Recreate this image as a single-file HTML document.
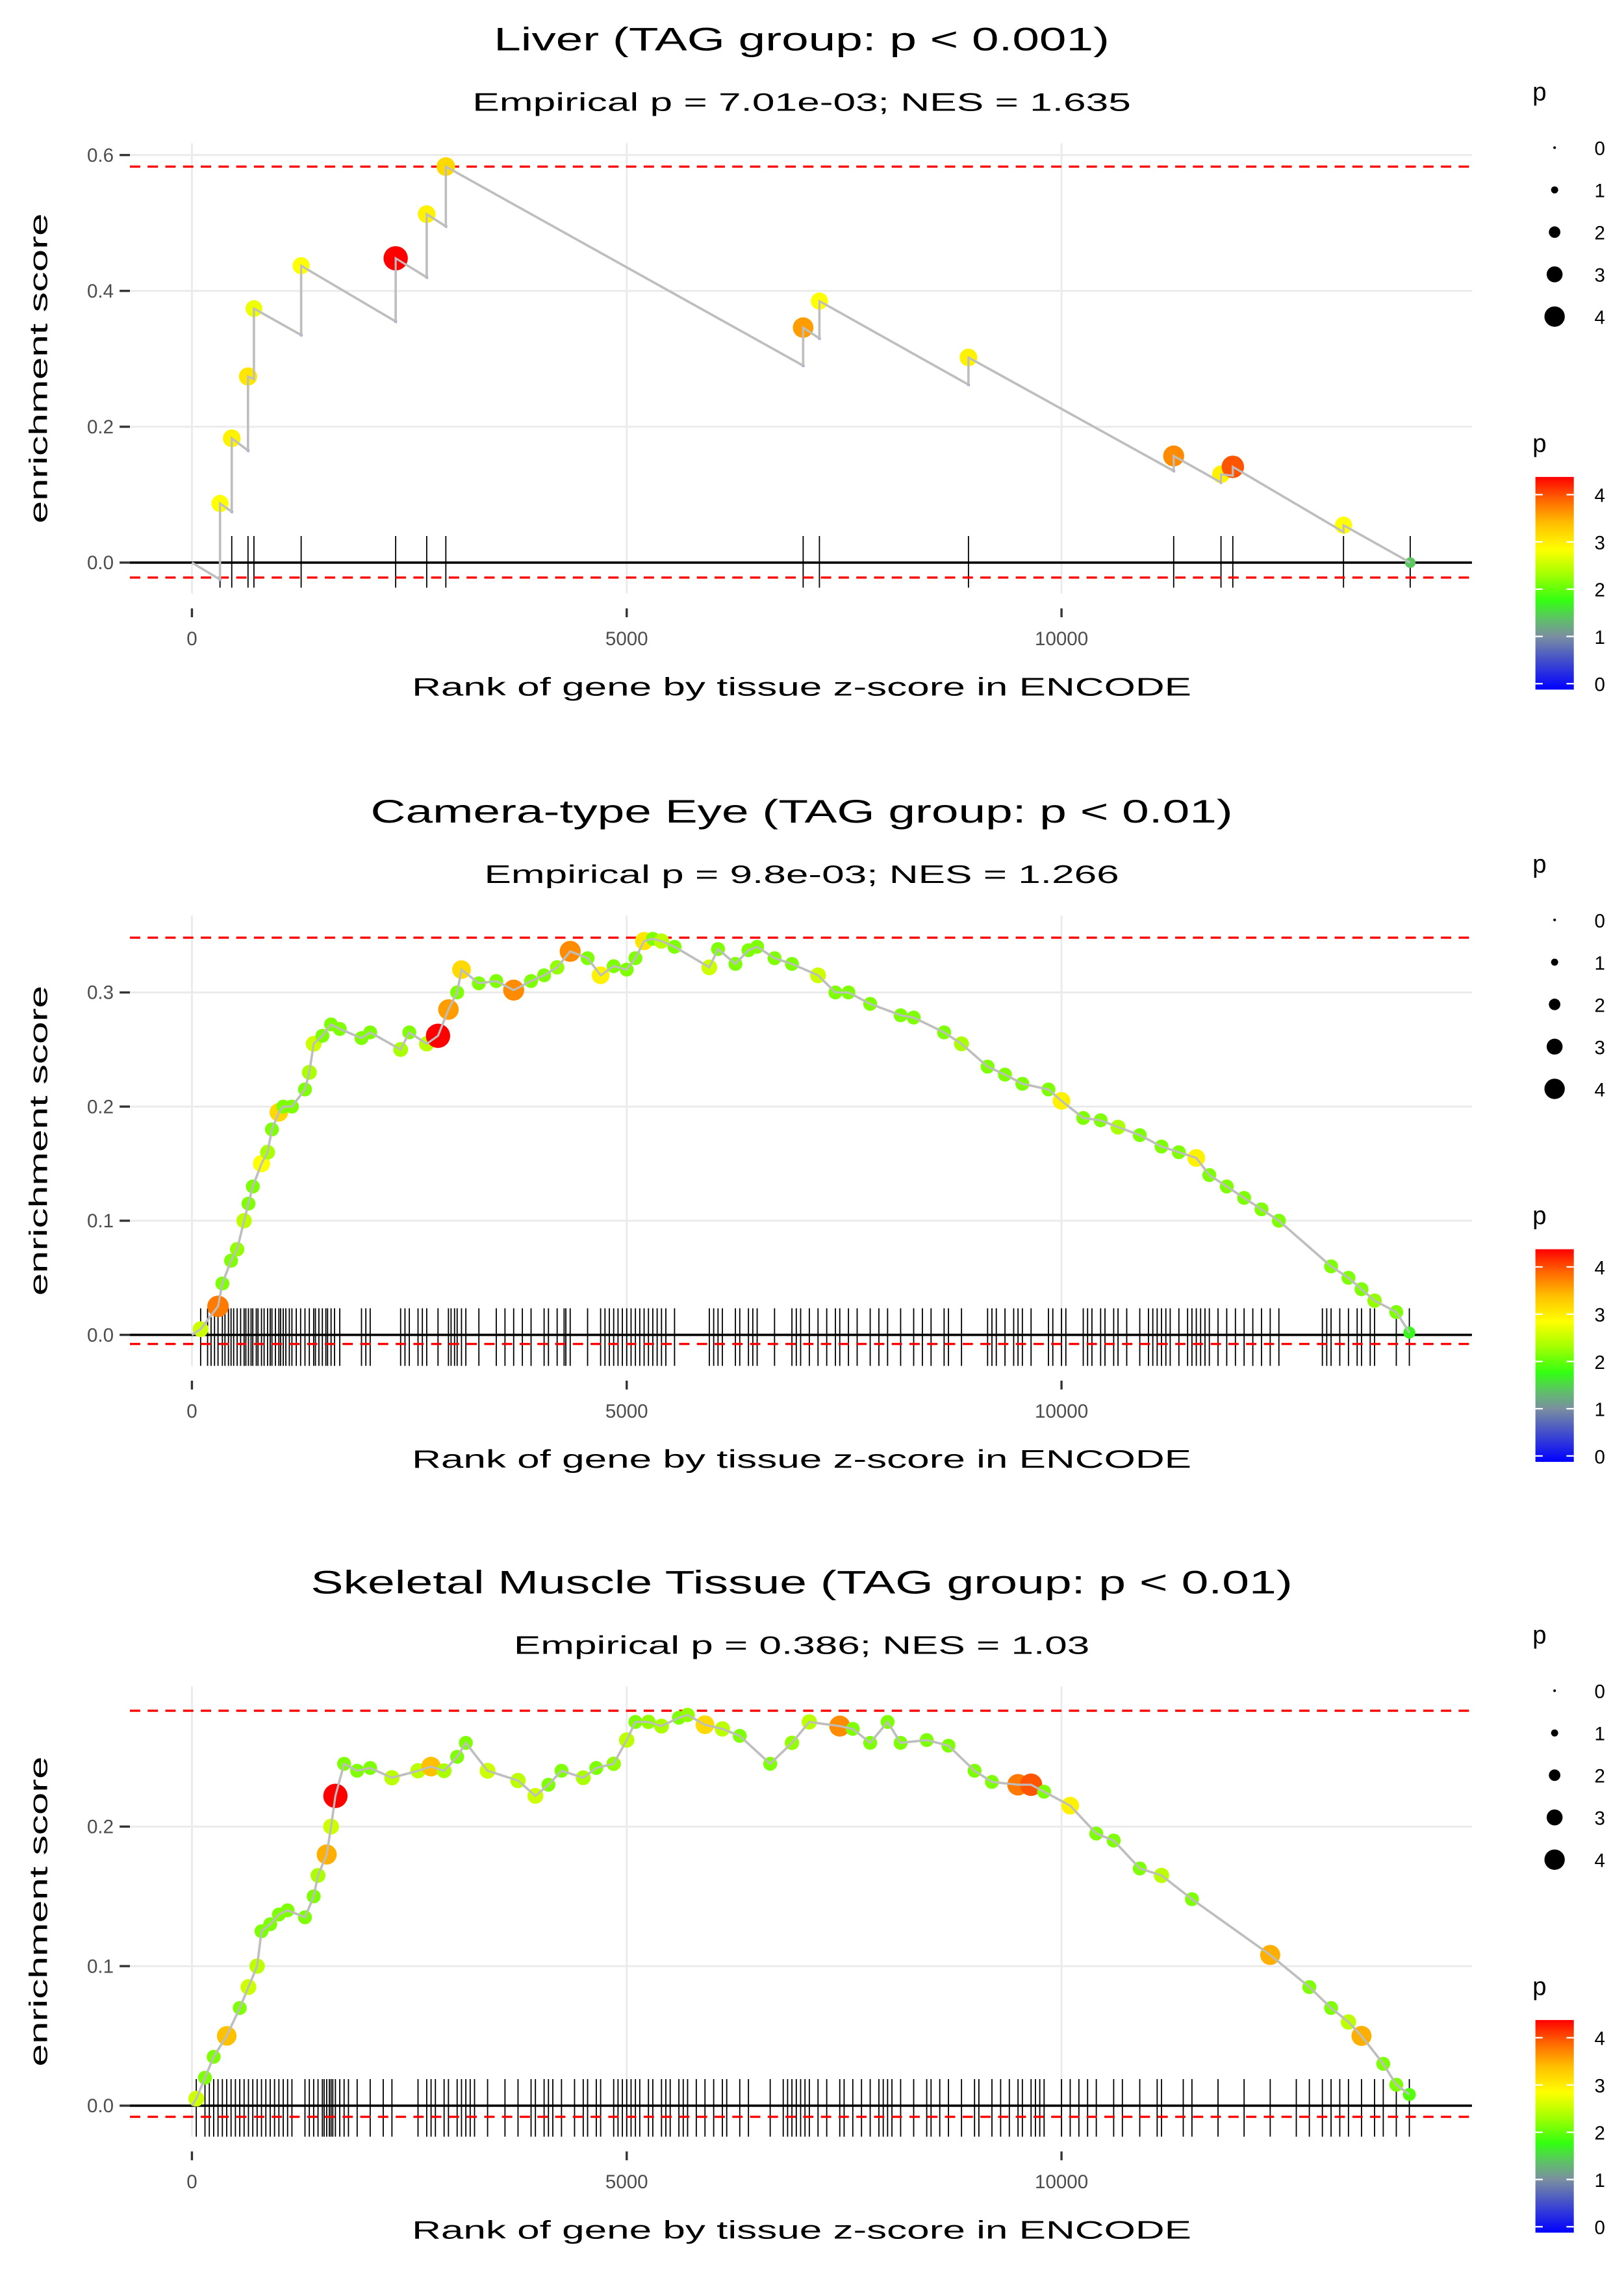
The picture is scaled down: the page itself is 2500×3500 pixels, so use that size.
<!DOCTYPE html>
<html><head><meta charset="utf-8"><style>
html,body{margin:0;padding:0;background:#fff}
svg{display:block}
text{font-family:"Liberation Sans",sans-serif}
</style></head><body>
<svg id="chart" width="2500" height="3500" viewBox="0 0 1100 1540" xmlns="http://www.w3.org/2000/svg">
<defs>
<linearGradient id="pgrad" x1="0" y1="1" x2="0" y2="0">
<stop offset="0" stop-color="#0000ff"/>
<stop offset="0.25" stop-color="#7a8fa0"/>
<stop offset="0.33" stop-color="#5fbf6a"/>
<stop offset="0.42" stop-color="#33ff11"/>
<stop offset="0.55" stop-color="#aaff00"/>
<stop offset="0.66" stop-color="#ffff00"/>
<stop offset="0.78" stop-color="#ffc000"/>
<stop offset="0.9" stop-color="#ff6000"/>
<stop offset="1" stop-color="#ff0000"/>
</linearGradient>
</defs>
</svg>
<script>
// ---- data ----
const liverRanks=[323,458,645,713,1256,2343,2700,2920,7029,7216,8930,11290,11834,11970,13243,14010];
const liverPeaks=[0.087,0.183,0.274,0.374,0.437,0.448,0.513,0.583,0.346,0.385,0.302,0.157,0.130,0.141,0.055,0.0];
const liverTroughs=[-0.025,0.075,0.165,0.27,0.335,0.355,0.42,0.495,0.29,0.33,0.262,0.135,0.118,0.128,0.045,0.0];
const liverP=[2.9,3.0,3.1,2.8,2.9,4.4,3.0,3.2,3.6,2.9,3.0,3.7,3.0,4.0,2.9,1.5];

const eyeRanks=[100,300,350,450,520,600,650,700,800,870,920,1000,1050,1150,1300,1350,1400,1500,1600,1700,1950,2050,2400,2500,2700,2830,2950,3050,3100,3300,3500,3700,3900,4050,4200,4350,4550,4700,4850,5000,5100,5200,5300,5400,5550,5950,6050,6250,6400,6500,6700,6900,7200,7400,7550,7800,8150,8300,8650,8850,9150,9350,9550,9850,10000,10250,10450,10650,10900,11150,11350,11550,11700,11900,12100,12300,12500,13100,13300,13450,13600,13850,14000];
const eyeES=[0.005,0.025,0.045,0.065,0.075,0.1,0.115,0.13,0.15,0.16,0.18,0.195,0.2,0.2,0.215,0.23,0.255,0.262,0.272,0.268,0.26,0.265,0.25,0.265,0.255,0.262,0.285,0.3,0.32,0.308,0.31,0.302,0.31,0.315,0.322,0.336,0.33,0.315,0.323,0.32,0.33,0.345,0.347,0.345,0.34,0.322,0.338,0.325,0.337,0.34,0.33,0.325,0.315,0.3,0.3,0.29,0.28,0.278,0.265,0.255,0.235,0.228,0.22,0.215,0.205,0.19,0.188,0.182,0.175,0.165,0.16,0.155,0.14,0.13,0.12,0.11,0.1,0.06,0.05,0.04,0.03,0.02,0.002];
const eyeP=[2.6,3.8,2.2,2.2,2.3,2.5,2.2,2.2,2.9,2.4,2.2,3.2,2.2,2.2,2.2,2.4,2.6,2.2,2.2,2.2,2.2,2.2,2.4,2.2,2.5,4.4,3.6,2.2,3.2,2.2,2.2,3.7,2.2,2.2,2.3,3.7,2.2,3.0,2.2,2.2,2.2,3.1,2.2,2.5,2.2,2.6,2.2,2.2,2.2,2.2,2.2,2.2,2.6,2.2,2.2,2.2,2.2,2.2,2.2,2.4,2.2,2.2,2.2,2.2,3.0,2.2,2.2,2.4,2.2,2.2,2.2,3.0,2.2,2.2,2.2,2.2,2.2,2.2,2.2,2.2,2.3,2.2,1.8];
const eyeRugExtra=[180,220,260,380,420,480,560,620,680,740,760,830,900,960,1020,1080,1120,1200,1250,1420,1460,1540,1560,1640,2000,2450,2600,2650,2980,3020,3150,3600,3800,4100,4280,4300,4750,4800,4900,4950,5050,5150,5250,5350,5450,6000,6100,6300,6450,6950,7000,7100,7300,7450,7650,7900,8000,8400,8500,8700,9200,9250,9450,9500,9650,9900,10050,10300,10350,10500,10600,10750,11000,11050,11100,11200,11250,11450,11500,11600,11650,11800,12000,12200,12400,13000,13050,13200,13400,13550];

const muscleRanks=[50,150,250,400,550,650,750,800,900,1000,1100,1300,1400,1450,1550,1600,1650,1750,1900,2050,2300,2600,2750,2900,3050,3150,3400,3750,3950,4100,4250,4500,4650,4850,5000,5100,5250,5400,5600,5700,5900,6100,6300,6650,6900,7100,7450,7600,7800,8000,8150,8450,8700,9000,9200,9500,9650,9800,10100,10400,10600,10900,11150,11500,12400,12850,13100,13300,13450,13700,13850,14000];
const muscleES=[0.005,0.02,0.035,0.05,0.07,0.085,0.1,0.125,0.13,0.137,0.14,0.135,0.15,0.165,0.18,0.2,0.222,0.245,0.24,0.242,0.235,0.24,0.243,0.24,0.25,0.26,0.24,0.233,0.222,0.23,0.24,0.235,0.242,0.245,0.262,0.275,0.275,0.272,0.278,0.28,0.273,0.27,0.265,0.245,0.26,0.275,0.272,0.27,0.26,0.275,0.26,0.262,0.258,0.24,0.232,0.23,0.23,0.225,0.215,0.195,0.19,0.17,0.165,0.148,0.108,0.085,0.07,0.06,0.05,0.03,0.015,0.008];
const muscleP=[2.6,2.2,2.2,3.4,2.2,2.6,2.5,2.2,2.2,2.2,2.2,2.2,2.2,2.4,3.5,2.6,4.4,2.2,2.2,2.2,2.5,2.5,3.4,2.4,2.2,2.2,2.6,2.5,2.6,2.2,2.2,2.4,2.2,2.3,2.5,2.2,2.3,2.4,2.2,2.3,3.2,2.5,2.2,2.2,2.3,2.5,3.7,2.2,2.2,2.2,2.2,2.2,2.2,2.2,2.2,3.8,4.0,2.2,3.0,2.2,2.2,2.2,2.5,2.2,3.5,2.2,2.2,2.5,3.5,2.2,2.2,2.0];
const muscleRugExtra=[200,300,350,450,500,600,700,850,950,1050,1150,1350,1500,1520,1580,1620,1700,1800,2200,2700,2800,2950,3100,3200,3250,3600,3900,4050,4150,4400,4550,4700,4900,4950,5050,5150,5300,5450,5500,5650,5800,6000,6150,6400,6800,6850,6950,7000,7050,7200,7300,7500,7700,7900,7950,8050,8300,8500,8600,8850,9050,9300,9400,9550,9700,9750,10000,10200,10300,10700,11100,11400,11800,12100,12700,13000,13200,13600];

const xTicks=[0,5000,10000];
const liverYTicks=[0,0.2,0.4,0.6];
const eyeYTicks=[0,0.1,0.2,0.3];
const muscleYTicks=[0,0.1,0.2];
const legendValues=[0,1,2,3,4];

const NS='http://www.w3.org/2000/svg';
const svg=document.getElementById('chart');
function mk(tag,attrs,parent){const e=document.createElementNS(NS,tag);for(const k in attrs)e.setAttribute(k,attrs[k]);(parent||svg).appendChild(e);return e;}
function txt(str,attrs,parent){const e=mk('text',attrs,parent);e.textContent=str;return e;}

const colorStops=[[0,[0,0,255]],[1,[122,143,160]],[1.45,[95,191,106]],[1.85,[51,255,17]],[2.4,[170,255,0]],[2.9,[255,255,0]],[3.4,[255,192,0]],[3.95,[255,96,0]],[4.4,[255,0,0]]];
function pColor(p){
  if(p<=colorStops[0][0])return 'rgb(0,0,255)';
  for(let i=1;i<colorStops.length;i++){if(p<=colorStops[i][0]){const a=colorStops[i-1],b=colorStops[i];const t=(p-a[0])/(b[0]-a[0]);const c=a[1].map((v,j)=>Math.round(v+(b[1][j]-v)*t));return 'rgb('+c.join(',')+')';}}
  return 'rgb(255,0,0)';
}
function pSize(p){return 1.2+1.6*p;}

function panel(cfg){
  const g=mk('g',{});
  
  
  const off=cfg.off;
  const L=88,R=997;
  const xs=r=>130+r*0.0589;
  const ys=v=>cfg.y0+off-v*cfg.k;
  const top=cfg.plotTop+off, bot=cfg.plotBot+off;
  cfg.yTicks.forEach(t=>{const l=mk('line',{x1:L,x2:R,y1:ys(t),y2:ys(t),stroke:'#ebebeb','stroke-width':1.3},g);});
  xTicks.forEach(t=>{const l=mk('line',{x1:xs(t),x2:xs(t),y1:top,y2:bot,stroke:'#ebebeb','stroke-width':1.3},g);});
  const rug=cfg.ranks.concat(cfg.rugExtra||[]);
  rug.forEach(r=>{const l=mk('line',{x1:xs(r),x2:xs(r),y1:cfg.rugTop+off,y2:cfg.rugBot+off,stroke:'#000','stroke-width':0.8},g);});
  const z=mk('line',{x1:L,x2:R,y1:ys(0),y2:ys(0),stroke:'#000','stroke-width':1.6},g);
  
  [cfg.maxES,cfg.minES].forEach(v=>{const l=mk('line',{x1:L,x2:R,y1:ys(v),y2:ys(v),stroke:'#ff0000','stroke-width':1.5,'stroke-dasharray':'7,5'},g);});
  let d='M'+xs(0)+','+ys(0);
  for(let i=0;i<cfg.ranks.length;i++){
    if(cfg.troughs){d+=' L'+xs(cfg.ranks[i])+','+ys(cfg.troughs[i]);}
    d+=' L'+xs(cfg.ranks[i])+','+ys(cfg.es[i]);
  }
  const path=mk('path',{d:d,fill:'none',stroke:'#bebebe','stroke-width':1.6},g);
  
  if(cfg.troughs){cfg.troughs.forEach((v,i)=>{const c=mk('circle',{cx:xs(cfg.ranks[i]),cy:ys(v),r:1,fill:'#6a6aff'},g);});}
  cfg.es.forEach((v,i)=>{const c=mk('circle',{cx:xs(cfg.ranks[i]),cy:ys(v),r:pSize(cfg.p[i]),fill:pColor(cfg.p[i])},g);});
  // redraw line over points (ggplot draws line on top)
  const path2=mk('path',{d:d,fill:'none',stroke:'#bebebe','stroke-width':1.4},g);
  
  cfg.yTicks.forEach(t=>{
    const l=mk('line',{x1:81,x2:88,y1:ys(t),y2:ys(t),stroke:'#333','stroke-width':1.5},g);
    const tx=txt(t.toFixed(1),{x:77,y:ys(t)+4.5,'text-anchor':'end','font-size':13,fill:'#4d4d4d'},g);
  });
  xTicks.forEach(t=>{
    const l=mk('line',{x1:xs(t),x2:xs(t),y1:cfg.xTickY+off,y2:cfg.xTickY+off+6,stroke:'#333','stroke-width':1.5},g);
    const tx=txt(String(t),{x:xs(t),y:cfg.xTickY+off+25,'text-anchor':'middle','font-size':13,fill:'#4d4d4d'},g);
  });
  const t1=txt(cfg.title,{x:543,y:34+off,'text-anchor':'middle','font-size':22,textLength:cfg.tw,lengthAdjust:'spacingAndGlyphs'},g);
  const t2=txt(cfg.sub,{x:543,y:75+off,'text-anchor':'middle','font-size':17,textLength:cfg.sw,lengthAdjust:'spacingAndGlyphs'},g);
  const xt=txt('Rank of gene by tissue z-score in ENCODE',{x:543,y:471+off,'text-anchor':'middle','font-size':17,textLength:528,lengthAdjust:'spacingAndGlyphs'},g);
  const yc=(cfg.plotTop+cfg.plotBot)/2+off;
  const yt=txt('enrichment score',{x:0,y:0,'text-anchor':'middle','font-size':17,transform:'translate(32,'+yc+') rotate(-90)',textLength:210,lengthAdjust:'spacingAndGlyphs'},g);
  const sl=txt('p',{x:1038,y:68+off,'font-size':17},g);
  legendValues.forEach((v,i)=>{
    const cy=100+off+i*28.6;
    const c=mk('circle',{cx:1053,cy:cy,r:0.9+1.5*v,fill:'#000'},g);
    const tx=txt(String(v),{x:1080,y:cy+5,'font-size':13},g);
  });
  const cl=txt('p',{x:1038,y:306+off,'font-size':17},g);
  const bar=mk('rect',{x:1040,y:323+off,width:26,height:144,fill:'url(#pgrad)'},g);
  legendValues.forEach(v=>{
    const yy=463+off-v*32;
    mk('line',{x1:1040,x2:1045,y1:yy,y2:yy,stroke:'#fff','stroke-width':1},g);
    mk('line',{x1:1061,x2:1066,y1:yy,y2:yy,stroke:'#fff','stroke-width':1},g);
    const tx=txt(String(v),{x:1080,y:yy+5,'font-size':13},g);
  });
}

panel({name:'liver',off:0,y0:381,k:460,plotTop:97,plotBot:402,rugTop:363,rugBot:398,xTickY:412,maxES:0.583,minES:-0.022,
  ranks:liverRanks,es:liverPeaks,troughs:liverTroughs,p:liverP,yTicks:liverYTicks,
  title:'Liver (TAG group: p < 0.001)',tw:417,sub:'Empirical p = 7.01e-03; NES = 1.635',sw:446});
panel({name:'camera-type-eye',off:523,y0:381,k:773,plotTop:97,plotBot:402,rugTop:363,rugBot:402,xTickY:412,maxES:0.348,minES:-0.008,
  ranks:eyeRanks,es:eyeES,troughs:null,p:eyeP,yTicks:eyeYTicks,rugExtra:eyeRugExtra,
  title:'Camera-type Eye (TAG group: p < 0.01)',tw:584,sub:'Empirical p = 9.8e-03; NES = 1.266',sw:430});
panel({name:'skeletal-muscle',off:1045,y0:381,k:945,plotTop:97,plotBot:402,rugTop:363,rugBot:402,xTickY:412,maxES:0.283,minES:-0.008,
  ranks:muscleRanks,es:muscleES,troughs:null,p:muscleP,yTicks:muscleYTicks,rugExtra:muscleRugExtra,
  title:'Skeletal Muscle Tissue (TAG group: p < 0.01)',tw:665,sub:'Empirical p = 0.386; NES = 1.03',sw:390});
</script>
</body></html>
